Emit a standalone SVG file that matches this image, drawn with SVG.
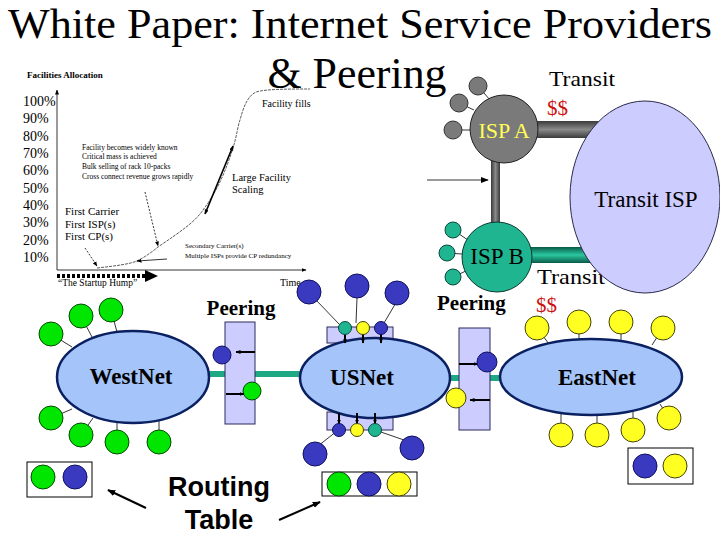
<svg xmlns="http://www.w3.org/2000/svg" width="720" height="540" viewBox="0 0 720 540">
<defs>
<style>
.serif{font-family:"Liberation Serif","Times New Roman",serif}
.sans{font-family:"Liberation Sans",Arial,sans-serif}
.net{fill:#a4c4fa;stroke:#0a2060;stroke-width:2.5}
.box{fill:#ccccff;stroke:#2a2a5a;stroke-width:1}
.g{fill:#00e600;stroke:#004a00;stroke-width:1}
.b{fill:#3a3ac0;stroke:#101060;stroke-width:1}
.y{fill:#ffff22;stroke:#444400;stroke-width:1}
.t{fill:#1fb590;stroke:#0a4a3a;stroke-width:1}
.gr{fill:#7a7a7a;stroke:#333;stroke-width:1}
.ln{stroke:#000;stroke-width:0.8;fill:none}
.ar{stroke:#000;stroke-width:2;fill:none}
.cl{stroke:#333;stroke-width:0.8;fill:none}
.red{fill:#cc1010}
</style>
<marker id="ah" viewBox="0 0 10 10" refX="9" refY="5" markerWidth="8" markerHeight="8" markerUnits="userSpaceOnUse" orient="auto-start-reverse"><path d="M0,1 L10,5 L0,9 z" fill="#000"/></marker>
<marker id="ahs" viewBox="0 0 10 10" refX="9" refY="5" markerWidth="5" markerHeight="5" markerUnits="userSpaceOnUse" orient="auto-start-reverse"><path d="M0,1 L10,5 L0,9 z" fill="#000"/></marker>
<linearGradient id="grayBar" x1="0" y1="0" x2="0" y2="1"><stop offset="0" stop-color="#3a3a3a"/><stop offset="0.5" stop-color="#8a8a8a"/><stop offset="1" stop-color="#3a3a3a"/></linearGradient>
<linearGradient id="tealBar" x1="0" y1="0" x2="0" y2="1"><stop offset="0" stop-color="#0a5a48"/><stop offset="0.5" stop-color="#2ac8a0"/><stop offset="1" stop-color="#0a5a48"/></linearGradient>
<linearGradient id="grayV" x1="0" y1="0" x2="1" y2="0"><stop offset="0" stop-color="#3a3a3a"/><stop offset="0.5" stop-color="#8a8a8a"/><stop offset="1" stop-color="#3a3a3a"/></linearGradient>
</defs>
<rect width="720" height="540" fill="#fff"/>

<g id="title" class="serif">
<text x="360" y="38" font-size="43" text-anchor="middle" textLength="704" lengthAdjust="spacingAndGlyphs">White Paper: Internet Service Providers</text>
<text x="357" y="88" font-size="45" text-anchor="middle" textLength="179" lengthAdjust="spacingAndGlyphs">&amp; Peering</text>
</g>

<g id="chart" class="serif">
<text x="27" y="78" font-size="9" font-weight="bold">Facilities Allocation</text>
<line class="ln" x1="57" y1="270" x2="57" y2="90" marker-end="url(#ahs)"/>
<line class="ln" x1="57" y1="270" x2="306" y2="270" marker-end="url(#ahs)"/>
<g font-size="14">
<text x="23" y="106">100%</text><text x="23" y="123">90%</text><text x="23" y="141">80%</text><text x="23" y="158">70%</text><text x="23" y="175">60%</text><text x="23" y="193">50%</text><text x="23" y="210">40%</text><text x="23" y="227">30%</text><text x="23" y="245">20%</text><text x="23" y="262">10%</text>
</g>
<path class="cl" stroke-dasharray="3 1" d="M97,268 C115,266 130,264 137,261 C145,257 152,252 158,247 C180,232 195,222 203,210 C218,190 226,170 233,148 C237,135 238,125 240,120 C244,105 248,96 256,92 C265,89 290,89 310,89"/>
<text x="262" y="107" font-size="10">Facility fills</text>
<g font-size="7.5">
<text x="82" y="150">Facility becomes widely known</text>
<text x="82" y="159">Critical mass is achieved</text>
<text x="82" y="169">Bulk selling of rack 10-packs</text>
<text x="82" y="179">Cross connect revenue grows rapidly</text>
</g>
<text x="232" y="181" font-size="10.5">Large Facility</text>
<text x="232" y="193" font-size="10.5">Scaling</text>
<line x1="233" y1="146" x2="205" y2="214" stroke="#000" stroke-width="1.6" marker-start="url(#ahs)" marker-end="url(#ahs)"/>
<text x="65" y="215" font-size="11">First Carrier</text>
<text x="65" y="228" font-size="11">First ISP(s)</text>
<text x="65" y="240" font-size="11">First CP(s)</text>
<text x="185" y="248" font-size="7">Secondary Carrier(s)</text>
<text x="185" y="258" font-size="7">Multiple ISPs provide CP redundancy</text>
<line class="ln" stroke-dasharray="2 1.5" x1="145" y1="192" x2="158" y2="246" marker-end="url(#ahs)"/>
<line class="ln" stroke-dasharray="2 1.5" x1="85" y1="248" x2="97" y2="266" marker-end="url(#ahs)"/>
<line class="ln" x1="167" y1="259" x2="137" y2="261" marker-end="url(#ahs)"/>
<line x1="57" y1="276" x2="147" y2="276" stroke="#000" stroke-width="4" stroke-dasharray="3 2"/>
<path d="M145,270 L158,276 L145,282 z" fill="#000"/>
<text x="58" y="286" font-size="9.5">“The Startup Hump”</text>
<text x="280" y="286" font-size="10">Time</text>
</g>

<g id="connectors">
<rect x="530" y="121" width="72" height="17" fill="url(#grayBar)"/>
<rect x="491" y="160" width="9" height="66" fill="url(#grayV)"/>
<rect x="526" y="247" width="72" height="16" fill="url(#tealBar)"/>
<line class="ln" x1="478" y1="86" x2="490" y2="100"/>
<line class="ln" x1="459" y1="103" x2="474" y2="110"/>
<line class="ln" x1="453" y1="130" x2="470" y2="130"/>
<line class="ln" x1="453" y1="230" x2="468" y2="240"/>
<line class="ln" x1="447" y1="253" x2="462" y2="254"/>
<line class="ln" x1="453" y1="277" x2="468" y2="270"/>
<line class="ln" stroke-width="1.2" x1="427" y1="180" x2="488" y2="180" marker-end="url(#ah)"/>
<rect x="209" y="371" width="92" height="6" fill="#1fa884"/>
<rect x="447" y="375" width="60" height="6" fill="#1fa884"/>
<g class="ln">
<line x1="51" y1="334" x2="72" y2="347"/><line x1="81" y1="316" x2="92" y2="337"/><line x1="111" y1="310" x2="117" y2="332"/>
<line x1="51" y1="418" x2="72" y2="409"/><line x1="81" y1="435" x2="93" y2="418"/><line x1="117" y1="442" x2="117" y2="423"/><line x1="159" y1="442" x2="159" y2="419"/>
<line x1="537" y1="328" x2="549" y2="344"/><line x1="579" y1="322" x2="579" y2="340"/><line x1="621" y1="322" x2="621" y2="340"/><line x1="663" y1="328" x2="652" y2="345"/>
<line x1="561" y1="435" x2="561" y2="412"/><line x1="597" y1="435" x2="597" y2="414"/><line x1="633" y1="430" x2="633" y2="412"/><line x1="669" y1="418" x2="660" y2="404"/>
<line x1="316" y1="300" x2="340" y2="325"/><line x1="357" y1="298" x2="356" y2="323"/><line x1="397" y1="301" x2="384" y2="323"/>
<line x1="318" y1="446" x2="337" y2="431"/><line x1="404" y1="440" x2="378" y2="431"/>
</g>
<line class="ar" x1="146" y1="508" x2="108" y2="490" marker-end="url(#ah)"/>
<line class="ar" x1="279" y1="520" x2="320" y2="502" marker-end="url(#ah)"/>
</g>

<g id="isp-a">
<circle class="gr" cx="478" cy="86" r="9"/>
<circle class="gr" cx="459" cy="103" r="9"/>
<circle class="gr" cx="453" cy="130" r="9"/>
<circle cx="504" cy="129" r="34" fill="#7a7a7a" stroke="#222" stroke-width="1"/>
<text class="serif" x="504" y="138" font-size="22" text-anchor="middle" fill="#ffff55">ISP A</text>
</g>

<g id="isp-b">
<circle class="t" cx="453" cy="230" r="8"/>
<circle class="t" cx="447" cy="253" r="8"/>
<circle class="t" cx="453" cy="277" r="8"/>
<circle cx="497" cy="257" r="35" fill="#1fb590" stroke="#0a3a30" stroke-width="1"/>
<text class="serif" x="497" y="264" font-size="23" text-anchor="middle">ISP B</text>
</g>

<g id="labels-top" class="serif">
<text x="549" y="86" font-size="21" textLength="66" lengthAdjust="spacingAndGlyphs">Transit</text>
<text class="red" x="547" y="115" font-size="21">$$</text>
<text x="537" y="284" font-size="21" textLength="68" lengthAdjust="spacingAndGlyphs">Transit</text>
<text x="437" y="310" font-size="21" font-weight="bold">Peering</text>
<text class="red" x="536" y="312" font-size="21">$$</text>
</g>

<g id="transit-isp">
<ellipse cx="645" cy="197" rx="75" ry="96" fill="#ccccff" stroke="#2a2a4a" stroke-width="1"/>
<text class="serif" x="646" y="207" font-size="23" text-anchor="middle">Transit ISP</text>
</g>

<g id="westnet">
<circle class="g" cx="51" cy="334" r="12"/><circle class="g" cx="81" cy="316" r="12"/><circle class="g" cx="111" cy="310" r="12"/>
<circle class="g" cx="51" cy="418" r="12"/><circle class="g" cx="81" cy="435" r="12"/><circle class="g" cx="117" cy="442" r="12"/><circle class="g" cx="159" cy="442" r="12"/>
<ellipse class="net" cx="133" cy="377" rx="76" ry="46"/>
<text class="serif" x="131" y="384" font-size="23" font-weight="bold" text-anchor="middle">WestNet</text>
</g>

<g id="peering-west">
<text class="serif" x="241" y="315" font-size="21" font-weight="bold" text-anchor="middle">Peering</text>
<rect class="box" x="225" y="322" width="30" height="102"/>
<circle class="b" cx="222" cy="355" r="9"/>
<line class="ar" x1="255" y1="352" x2="236" y2="352" marker-end="url(#ahs)"/>
<circle class="g" cx="252" cy="391" r="9"/>
<line class="ar" x1="226" y1="394" x2="244" y2="394" marker-end="url(#ahs)"/>
</g>

<g id="usnet">
<circle class="b" cx="309" cy="292" r="12"/><circle class="b" cx="357" cy="286" r="12"/><circle class="b" cx="397" cy="293" r="12"/>
<rect class="box" x="327" y="327" width="66" height="16"/>
<rect class="box" x="327" y="412" width="66" height="18"/>
<ellipse class="net" cx="375" cy="378" rx="75" ry="40"/>
<text class="serif" x="362" y="385" font-size="23" font-weight="bold" text-anchor="middle">USNet</text>
<line class="ar" stroke-width="1.5" x1="345" y1="333" x2="345" y2="343" marker-end="url(#ahs)"/>
<line class="ar" stroke-width="1.5" x1="363" y1="333" x2="363" y2="343" marker-end="url(#ahs)"/>
<line class="ar" stroke-width="1.5" x1="381" y1="333" x2="381" y2="343" marker-end="url(#ahs)"/>
<circle class="t" cx="345" cy="328" r="6.5"/><circle class="y" cx="363" cy="328" r="6.5"/><circle class="b" cx="381" cy="328" r="6.5"/>
<line class="ar" stroke-width="1.5" x1="339" y1="413" x2="339" y2="424" marker-end="url(#ahs)"/>
<line class="ar" stroke-width="1.5" x1="357" y1="413" x2="357" y2="424" marker-end="url(#ahs)"/>
<line class="ar" stroke-width="1.5" x1="375" y1="413" x2="375" y2="424" marker-end="url(#ahs)"/>
<circle class="b" cx="339" cy="430" r="6.5"/><circle class="y" cx="357" cy="430" r="6.5"/><circle class="t" cx="375" cy="430" r="6.5"/>
<circle class="b" cx="315" cy="454" r="12"/><circle class="b" cx="412" cy="448" r="12"/>
</g>

<g id="peering-east">
<rect class="box" x="459" y="328" width="31" height="102"/>
<line class="ar" x1="459" y1="364" x2="478" y2="364" marker-end="url(#ahs)"/>
<circle class="b" cx="487" cy="362" r="10"/>
<circle class="y" cx="456" cy="398" r="10"/>
<line class="ar" x1="490" y1="400" x2="470" y2="400" marker-end="url(#ahs)"/>
</g>

<g id="eastnet">
<circle class="y" cx="537" cy="328" r="12"/><circle class="y" cx="579" cy="322" r="12"/><circle class="y" cx="621" cy="322" r="12"/><circle class="y" cx="663" cy="328" r="12"/>
<circle class="y" cx="561" cy="435" r="12"/><circle class="y" cx="597" cy="435" r="12"/><circle class="y" cx="633" cy="430" r="12"/><circle class="y" cx="669" cy="418" r="12"/>
<ellipse class="net" cx="591" cy="377" rx="91" ry="38"/>
<text class="serif" x="597" y="385" font-size="23" font-weight="bold" text-anchor="middle">EastNet</text>
</g>

<g id="routing-west">
<rect x="27" y="462" width="65" height="35" fill="#fff" stroke="#000" stroke-width="1"/>
<circle class="g" cx="43" cy="477" r="12"/><circle class="b" cx="75" cy="477" r="12"/>
</g>
<g id="routing-us">
<rect x="322" y="472" width="95" height="24" fill="#fff" stroke="#000" stroke-width="1"/>
<circle class="g" cx="339" cy="484" r="12"/><circle class="b" cx="369" cy="484" r="12"/><circle class="y" cx="399" cy="484" r="12"/>
</g>
<g id="routing-east">
<rect x="628" y="448" width="65" height="36" fill="#fff" stroke="#000" stroke-width="1"/>
<circle class="b" cx="645" cy="466" r="12"/><circle class="y" cx="675" cy="466" r="12"/>
</g>
<g id="routing-label" class="sans" font-weight="bold" font-size="27" text-anchor="middle">
<text x="219" y="496">Routing</text>
<text x="219" y="529">Table</text>
</g>
</svg>
